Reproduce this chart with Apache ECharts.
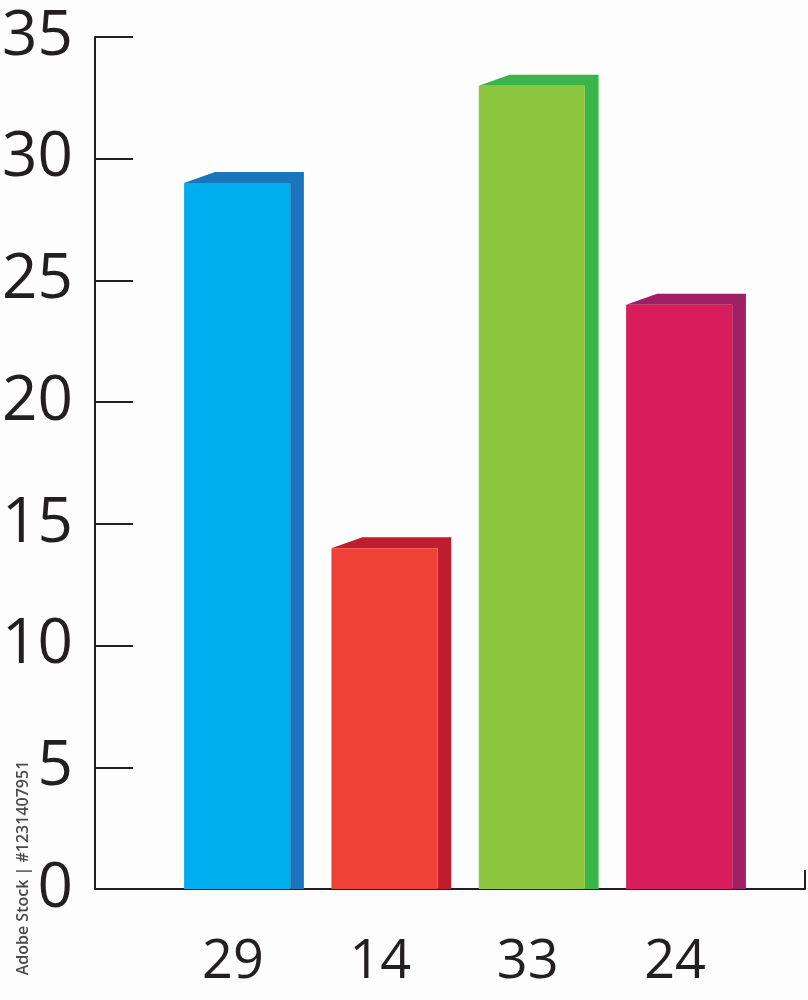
<!DOCTYPE html>
<html>
<head>
<meta charset="utf-8">
<script src="https://cdn.jsdelivr.net/npm/echarts@6/dist/echarts.min.js"></script>
<style>
html,body{margin:0;padding:0;background:#fdfdfd;}
#chart{width:808px;height:1000px;}
</style>
</head>
<body>
<div id="chart"></div>
<script>
// ---- data ----
var categories = ['29', '14', '33', '24'];
var values = [29, 14, 33, 24];
var yTicks = [0, 5, 10, 15, 20, 25, 30, 35];

// ---- styles ----
var frontColors = ['#00aeef', '#ef4136', '#8dc63f', '#d91c5c'];
var sideColors = ['#1b75bc', '#be1e2d', '#39b54a', '#9e1f63'];
var ink = '#231f20';

var chart = echarts.init(document.getElementById('chart'));

var barData = values.map(function (v, i) { return [i, v]; });

chart.setOption({
  backgroundColor: '#fdfdfd',
  animation: false,
  grid: [
    { left: 95, right: 3, top: 37, bottom: 111, containLabel: false, outerBoundsMode: 'none' },
    { left: 170.3, right: 48.3, top: 37, bottom: 111, containLabel: false, outerBoundsMode: 'none' }
  ],
  xAxis: [
    {
      gridIndex: 0, type: 'category', data: [''], boundaryGap: true,
      axisLine: { show: true, lineStyle: { color: ink, width: 2 } },
      axisTick: { show: true, inside: true, length: 19, interval: 0, lineStyle: { color: ink, width: 2 } },
      axisLabel: { show: false }
    },
    {
      gridIndex: 1, type: 'category', data: categories, boundaryGap: true,
      axisLine: { show: false }, axisTick: { show: false },
      axisLabel: {
        show: true, interval: 0, margin: 47,
        fontFamily: 'Open Sans', fontSize: 54, color: ink,
        padding: [0, 22, 0, 0]
      }
    }
  ],
  yAxis: [
    {
      gridIndex: 0, type: 'value', min: yTicks[0], max: yTicks[yTicks.length - 1], interval: 5,
      splitLine: { show: false },
      axisLine: { show: true, lineStyle: { color: ink, width: 2 } },
      axisTick: { show: true, inside: true, length: 38, lineStyle: { color: ink, width: 2 } },
      axisLabel: { show: true, margin: 22, fontFamily: 'Open Sans', fontSize: 62, color: ink, padding: [10, 0, 0, 0] }
    },
    {
      gridIndex: 1, type: 'value', min: yTicks[0], max: yTicks[yTicks.length - 1], interval: 5,
      show: false
    }
  ],
  series: [
    {
      type: 'custom',
      xAxisIndex: 1, yAxisIndex: 1,
      data: barData,
      renderItem: function (params, api) {
        var idx = params.dataIndex;
        var cat = api.value(0), val = api.value(1);
        var top = api.coord([cat, val]);
        var base = api.coord([cat, 0]);
        var band = api.size([1, 0])[0];
        var fw = band * 0.72;
        var side = band * 0.093;
        var slant = band * 0.21;
        var dy = 11;
        var x0 = top[0] - (fw + side) / 2;
        var x1 = x0 + fw;
        var yT = top[1], yB = base[1];
        return {
          type: 'group',
          children: [
            {
              type: 'polygon',
              shape: { points: [[x0, yT], [x0 + slant, yT - dy], [x1 + side, yT - dy], [x1 + side, yB], [x1, yB], [x1, yT]] },
              style: { fill: sideColors[idx] }
            },
            {
              type: 'rect',
              shape: { x: x0, y: yT, width: fw, height: yB - yT },
              style: { fill: frontColors[idx] }
            }
          ]
        };
      }
    }
  ],
  graphic: [
    {
      type: 'text',
      x: 23, y: 868, rotation: Math.PI / 2,
      style: {
        text: 'Adobe Stock | #1231407951',
        fontFamily: 'Open Sans', fontSize: 16, fontWeight: 600,
        fill: '#4a4a4a', align: 'center', verticalAlign: 'middle'
      }
    }
  ]
});
</script>
</body>
</html>
